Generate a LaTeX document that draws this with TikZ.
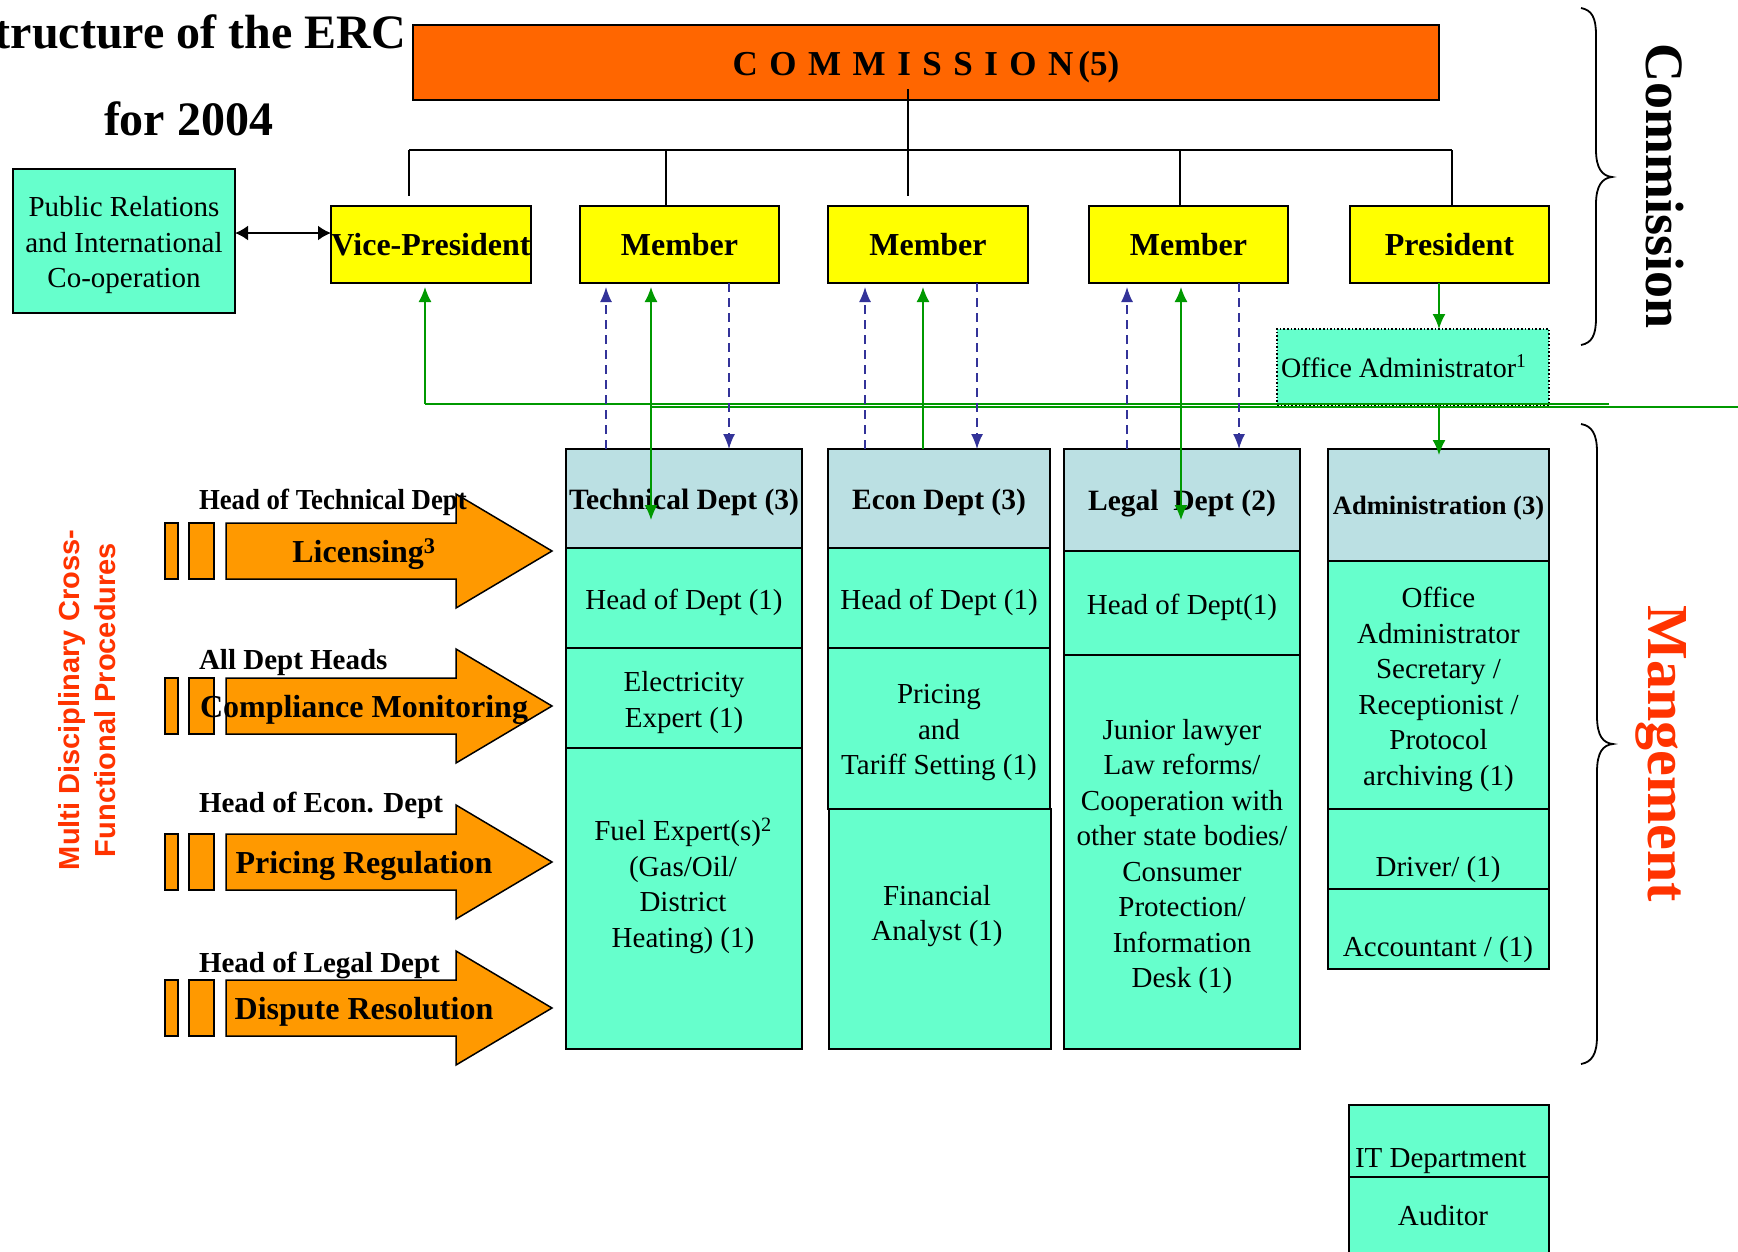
\documentclass[tikz,border=0pt]{standalone}
\usepackage{fontspec}
\usepackage{graphicx}
\setmainfont{Liberation Serif}
\newfontfamily\arialfont{Liberation Sans}
\usetikzlibrary{arrows.meta}
\definecolor{commorange}{HTML}{FF6600}
\definecolor{aquafill}{HTML}{66FFCC}
\definecolor{hdrblue}{HTML}{BBE0E3}
\definecolor{arrorange}{HTML}{FF9900}
\definecolor{lgreen}{HTML}{009900}
\definecolor{dblue}{HTML}{333399}
\definecolor{redorange}{HTML}{FF3300}
\definecolor{ybfill}{HTML}{FFFF00}
\newcommand\fsz[2]{\fontsize{#1}{#2}\selectfont}
\newcommand\lsp{\hspace{11.5pt}}
\tikzset{
  every node/.style={inner sep=0pt, outer sep=0pt},
  bx/.style={draw=black, line width=1.6pt, anchor=north west},
  cell/.style={bx, fill=aquafill},
  hdrcell/.style={bx, fill=hdrblue},
  ybox/.style={bx, fill=ybfill, minimum height=77pt, font=\fsz{32}{38}\bfseries},
  body/.style={font=\fsz{29}{35.5}, align=center},
  ctext/.style={body, yshift=-4.5pt},
  htext/.style={font=\fsz{29.5}{35}\bfseries, yshift=-3.5pt},
  tree/.style={draw=black, line width=1.4pt},
  gline/.style={draw=lgreen, line width=1.6pt},
  garrow/.style={gline, -{Latex[length=15pt,width=13pt]}},
  gdouble/.style={gline, {Latex[length=15pt,width=13pt]}-{Latex[length=15pt,width=13pt]}},
  bdash/.style={draw=dblue, line width=1.4pt, dash pattern=on 9pt off 6pt, -{Latex[length=15pt,width=12pt]}},
  procbar/.style={draw=black, line width=1.5pt, fill=arrorange, line join=miter},
  bracepath/.style={draw=black, line width=1.8pt},
}
\begin{document}
\begin{tikzpicture}[x=1pt,y=-1pt]
\useasboundingbox (0,0) rectangle (1738,1251);

% ---------- title ----------
\node[font=\fsz{48}{58}\bfseries, anchor=base east] (title1) at (406,48) {tructure of the ERC};
\node[font=\fsz{48}{58}\bfseries, anchor=base west] (title2) at (104,135) {for 2004};

% ---------- commission ----------
\node[bx, fill=commorange, minimum width=1026pt, minimum height=75pt] (comm) at (413,25) {};
\node[font=\fsz{35}{42}\bfseries, anchor=base] (commtxt) at (926,75)
  {C\lsp O\lsp M\lsp M\lsp I\lsp S\lsp S\lsp I\lsp O\lsp N\hspace{5pt}(5)};

% ---------- public relations ----------
\node[cell, minimum width=222pt, minimum height=144pt] (pr) at (13,169) {};
\node[ctext] (prt) at (pr.center) {Public Relations\\and International\\Co-operation};

% ---------- commission members ----------
\node[ybox, minimum width=200pt] (vp) at (331,206) {Vice-President};
\node[ybox, minimum width=199pt] (m1) at (580,206) {Member};
\node[ybox, minimum width=200pt] (m2) at (828,206) {Member};
\node[ybox, minimum width=199pt] (m3) at (1089,206) {Member};
\node[ybox, minimum width=199pt] (pres) at (1350,206) {President};

% ---------- tree lines ----------
\coordinate (busL) at (409,150);
\coordinate (busR) at (1452,150);
\draw[tree] (busL) -- (busR);
\draw[tree] (busL) -- ++(0,46);
\draw[tree] ([xshift=86pt]m1.north west) -- ++(0,-56);
\draw[tree] ([xshift=495pt,yshift=11pt]comm.south west) -- ++(0,107);
\draw[tree] ([xshift=91pt]m3.north west) -- ++(0,-56);
\draw[tree] ([xshift=102pt]pres.north west) -- (busR);

% ---------- PR double arrow ----------
\draw[line width=2pt, {Latex[length=13pt,width=15pt]}-{Latex[length=13pt,width=15pt]}]
  ([yshift=8pt]pr.east) -- ([yshift=11.5pt]vp.west);

% ---------- office administrator ----------
\node[bx, draw=black, dotted, line width=1.3pt, fill=aquafill, minimum width=272pt, minimum height=76pt] (offadm) at (1277,329) {};
\node[font=\fsz{28}{34}, anchor=base west] (offadmt) at (1281,377) {Office Administrator\textsuperscript{1}};

% ---------- technical dept ----------
\node[hdrcell, minimum width=236pt, minimum height=99pt] (tech) at (566,449) {};
\node[htext] (techt) at (tech.center) {Technical Dept (3)};
\node[cell, minimum width=236pt, minimum height=100pt] (tech1) at (566,548) {};
\node[ctext] (tech1t) at (tech1.center) {Head of Dept (1)};
\node[cell, minimum width=236pt, minimum height=100pt] (tech2) at (566,648) {};
\node[ctext] (tech2t) at (tech2.center) {Electricity\\Expert (1)};
\node[cell, minimum width=236pt, minimum height=301pt] (tech3) at (566,748) {};
\node[body] (tech3t) at (683,886) {Fuel Expert(s)\textsuperscript{2}\\(Gas/Oil/\\District\\Heating) (1)};

% ---------- econ dept ----------
\node[hdrcell, minimum width=222pt, minimum height=99pt] (econ) at (828,449) {};
\node[htext] (econt) at (econ.center) {Econ Dept (3)};
\node[cell, minimum width=222pt, minimum height=100pt] (econ1) at (828,548) {};
\node[ctext] (econ1t) at (econ1.center) {Head of Dept (1)};
\node[cell, minimum width=222pt, minimum height=161pt] (econ2) at (828,648) {};
\node[ctext] (econ2t) at (econ2.center) {Pricing\\and\\Tariff Setting (1)};
\node[cell, minimum width=222pt, minimum height=240pt] (econ3) at (829,809) {};
\node[body] (econ3t) at (937,916) {Financial\\Analyst (1)};

% ---------- legal dept ----------
\node[hdrcell, minimum width=236pt, minimum height=102pt] (legal) at (1064,449) {};
\node[htext] (legalt) at (legal.center) {Legal\ \ Dept (2)};
\node[cell, minimum width=236pt, minimum height=104pt] (legal1) at (1064,551) {};
\node[ctext] (legal1t) at (legal1.center) {Head of Dept(1)};
\node[cell, minimum width=236pt, minimum height=394pt] (legal2) at (1064,655) {};
\node[ctext] (legal2t) at (legal2.center)
  {Junior lawyer\\Law reforms/\\Cooperation with\\other state bodies/\\Consumer\\Protection/\\Information\\Desk (1)};

% ---------- administration ----------
\node[hdrcell, minimum width=221pt, minimum height=112pt] (admin) at (1328,449) {};
\node[htext, font=\fsz{26.5}{32}\bfseries] (admint) at (admin.center) {Administration (3)};
\node[cell, minimum width=221pt, minimum height=248pt] (admin1) at (1328,561) {};
\node[ctext] (admin1t) at (admin1.center)
  {Office\\Administrator\\Secretary /\\Receptionist /\\Protocol\\archiving (1)};
\node[cell, minimum width=221pt, minimum height=80pt] (admin2) at (1328,809) {};
\node[body, anchor=base] (admin2t) at (1438,876) {Driver/ (1)};
\node[cell, minimum width=221pt, minimum height=80pt] (admin3) at (1328,889) {};
\node[body, anchor=base] (admin3t) at (1438,956) {Accountant / (1)};

% ---------- IT / auditor ----------
\node[cell, minimum width=200pt, minimum height=72pt] (it) at (1349,1105) {};
\node[body, anchor=base west] (itt) at (1355,1167) {IT Department};
\node[cell, minimum width=200pt, minimum height=90pt] (aud) at (1349,1177) {};
\node[body, anchor=base] (audt) at (1443,1225) {Auditor};

% ---------- green connectors ----------
\coordinate (gA) at (425,404);
\coordinate (gAend) at (1609,404);
\coordinate (gB) at (651,407);
\coordinate (gBend) at (1738,407);
\draw[gline] (gAend) -- (gA);
\draw[garrow, shorten >=4pt] (gA) -- ([xshift=94pt]vp.south west);
\draw[gline] (gBend) -- (gB);
\draw[gdouble, shorten <=4pt] ([xshift=71pt]m1.south west) -- ([xshift=85pt,yshift=-71pt]tech.north west);
\draw[garrow, shorten >=4pt] ([xshift=95pt]econ.north west) -- ([xshift=95pt]m2.south west);
\draw[gdouble, shorten <=4pt] ([xshift=92pt]m3.south west) -- ([xshift=117pt,yshift=-71pt]legal.north west);
\draw[garrow] ([xshift=89pt]pres.south west) -- ([xshift=162pt]offadm.north west);
\draw[garrow] ([xshift=162pt]offadm.south west) -- ([xshift=111pt,yshift=-6pt]admin.north west);

% ---------- blue dashed connectors ----------
\draw[bdash, shorten >=4pt] ([xshift=40pt]tech.north west) -- ([xshift=26pt]m1.south west);
\draw[bdash] ([xshift=149pt]m1.south west) -- ([xshift=163pt]tech.north west);
\draw[bdash, shorten >=4pt] ([xshift=37pt]econ.north west) -- ([xshift=37pt]m2.south west);
\draw[bdash] ([xshift=149pt]m2.south west) -- ([xshift=149pt]econ.north west);
\draw[bdash, shorten >=4pt] ([xshift=63pt]legal.north west) -- ([xshift=38pt]m3.south west);
\draw[bdash] ([xshift=150pt]m3.south west) -- ([xshift=175pt]legal.north west);

% ---------- process arrows ----------
\foreach \cy/\hy/\hd/\tx in {
  551/509/{\scalebox{0.924}[1]{Head of Technical Dept}}/{Licensing\textsuperscript{3}},
  706/669/{All Dept Heads}/{Compliance Monitoring},
  862/812/{Head of Econ. Dept}/{Pricing Regulation},
  1008/972/{Head of Legal Dept}/{Dispute Resolution}}{
  \draw[procbar] (165,\cy-28) rectangle (178,\cy+28);
  \draw[procbar] (189,\cy-28) rectangle (214,\cy+28);
  \draw[procbar] (226,\cy-28) -- (456,\cy-28) -- (456,\cy-57) -- (552,\cy) -- (456,\cy+57) -- (456,\cy+28) -- (226,\cy+28) -- cycle;
  \node[font=\fsz{32}{38}\bfseries, anchor=base] (pa\cy) at (364,\cy+11.5) {\tx};
  \node[font=\fsz{29}{34}\bfseries, anchor=base west] (ph\cy) at (199,\hy) {\hd};
}

% ---------- side labels ----------
\node[rotate=90, align=center, font=\arialfont\fsz{29}{36}\bfseries, text=redorange] (mdlbl) at (87,700)
  {Multi Disciplinary Cross-\\Functional Procedures};

% ---------- braces ----------
\draw[bracepath] (1581,8) .. controls (1592,10) and (1596,18) .. (1596,35) -- (1596,150)
  .. controls (1596,168) and (1602,176) .. (1612,177)
  .. controls (1602,178) and (1596,186) .. (1596,204) -- (1596,318)
  .. controls (1596,335) and (1592,343) .. (1581,345);
\draw[bracepath] (1581,424) .. controls (1592,426) and (1597,434) .. (1597,452) -- (1597,716)
  .. controls (1597,736) and (1603,743) .. (1613,744)
  .. controls (1603,745) and (1597,752) .. (1597,772) -- (1597,1036)
  .. controls (1597,1054) and (1592,1062) .. (1581,1064);
\node[rotate=-90, font=\fsz{54}{60}\bfseries] (commlbl) at (1665,186) {Commission};
\node[rotate=-90, font=\fsz{58}{64}\bfseries, text=redorange] (mgmtlbl) at (1661,754) {Mangement};
\end{tikzpicture}
\end{document}
